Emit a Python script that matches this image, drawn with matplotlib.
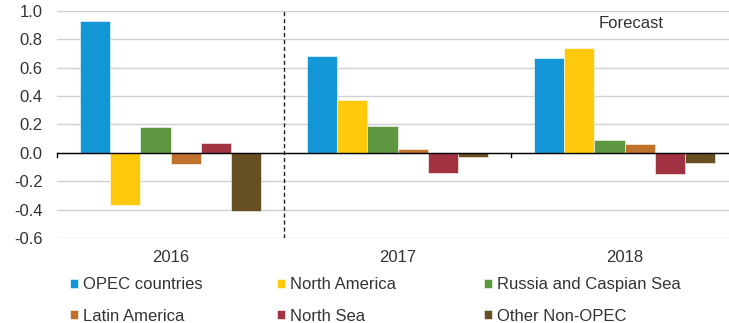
import matplotlib.pyplot as plt
import numpy as np

plt.rcParams['font.family'] = ['Liberation Sans', 'DejaVu Sans']

years = ['2016', '2017', '2018']
series = ['OPEC countries', 'North America', 'Russia and Caspian Sea',
          'Latin America', 'North Sea', 'Other Non-OPEC']
opec = [0.93, 0.68, 0.67]
north_america = [-0.37, 0.37, 0.74]
russia = [0.18, 0.19, 0.09]
latin_america = [-0.08, 0.03, 0.06]
north_sea = [0.07, -0.14, -0.15]
other = [-0.41, -0.03, -0.07]
colors = ['#1396D6', '#FFC90B', '#5D9840', '#C0712C', '#A13241', '#664F20']

values = [opec, north_america, russia, latin_america, north_sea, other]

W, H = 729, 323
fig = plt.figure(figsize=(W / 100, H / 100), dpi=100)
ax = fig.add_axes([57 / W, 1 - 238 / H, 1 - 57 / W, (238 - 11) / H])

x = np.arange(len(years))
w = 0.8 / len(series)
handles = []
for i, (name, vals, c) in enumerate(zip(series, values, colors)):
    b = ax.bar(x - 0.4 + w * (i + 0.5), vals, width=w, color=c, label=name, zorder=3,
               edgecolor='white', linewidth=0.4)
    handles.append(b)

ax.set_ylim(-0.6, 1.0)
ax.set_xlim(-0.5, 2.46)
ticks = np.arange(-0.6, 1.01, 0.2)
ax.set_yticks(ticks)
ax.set_yticklabels(['%.1f' % v if abs(v) > 1e-9 else '0.0' for v in ticks])
ax.yaxis.grid(True, color='#D0D0D0', linewidth=1, zorder=0)
ax.tick_params(axis='y', length=0, labelsize=12, colors='#333333', pad=10.5)
for s in ax.spines.values():
    s.set_visible(False)

ax.axhline(0, color='black', linewidth=1, zorder=4)
ax.axvline(0.5, color='#222222', linestyle=(0, (3, 2)), linewidth=1, zorder=4)
for xt in [-0.5, 1.5]:
    ax.plot([xt, xt], [0, -0.03], color='black', linewidth=1, zorder=4, clip_on=False)

ax.set_xticks(x)
ax.set_xticklabels(years)
ax.tick_params(axis='x', length=0, labelsize=12, colors='#333333', pad=9)

ax.text(2.03, 0.91, 'Forecast', ha='center', va='center', fontsize=12, color='#333333')

# legend: three columns of two rows each
col_x = [70, 277, 484]
for k in range(3):
    idx = [k, k + 3]
    leg = fig.legend([handles[i] for i in idx], [series[i] for i in idx],
                     loc='center left', bbox_to_anchor=(col_x[k] / W, 1 - 300.5 / H),
                     frameon=False, fontsize=12, handlelength=0.45, handleheight=0.45,
                     handletextpad=0.35, labelspacing=1.0, borderpad=0, borderaxespad=0)
    for t in leg.get_texts():
        t.set_color('#333333')

fig.savefig('out.png', dpi=100)
